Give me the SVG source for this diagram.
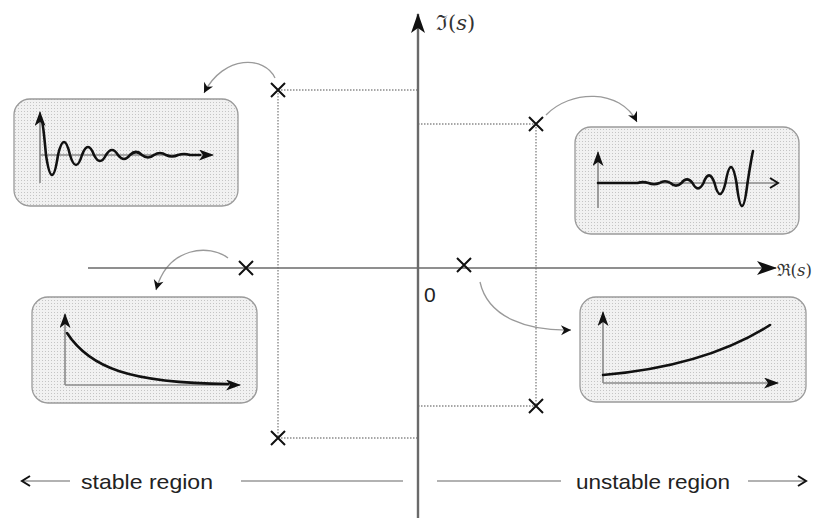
<svg xmlns="http://www.w3.org/2000/svg" width="815" height="518" viewBox="0 0 815 518">
<style>
.bg{fill:#fff}
.box{fill:url(#dots);stroke:#9a9a9a;stroke-width:1.3}
.axis{stroke:#6a6a6a;fill:none}
.dot{stroke:#8a8a8a;stroke-width:1.4;stroke-dasharray:1.5 1.5;fill:none}
.pole{stroke:#111;stroke-width:2;fill:none}
.curve{stroke:#9a9a9a;stroke-width:1.3;fill:none}
.sig{stroke:#111;stroke-width:2.6;fill:none;stroke-linecap:round}
.iax{stroke:#8a8a8a;stroke-width:1.6;fill:none}
.lbl{font-family:"Liberation Sans",Arial,sans-serif;fill:#222}
.math{font-family:"DejaVu Serif","Liberation Serif",serif;fill:#333}
.reg{stroke:#999;stroke-width:1.3;fill:none}
</style>
<defs>
<pattern id="dots" width="3" height="3" patternUnits="userSpaceOnUse">
<rect width="3" height="3" fill="#f1f1f1"/>
<rect width="1" height="1" fill="#c4c4c4"/>
</pattern>
<marker id="bigHead" markerUnits="userSpaceOnUse" markerWidth="22" markerHeight="14" refX="19" refY="7" orient="auto">
<path d="M0,0 L20,7 L0,14 L5,7 z" fill="#111"/>
</marker>
<marker id="head" markerUnits="userSpaceOnUse" markerWidth="16" markerHeight="12" refX="14" refY="5.5" orient="auto">
<path d="M0,0 L15,5.5 L0,11 L4,5.5 z" fill="#111"/>
</marker>
<marker id="chev" markerUnits="userSpaceOnUse" markerWidth="14" markerHeight="12" refX="11" refY="5.5" orient="auto">
<path d="M1,0.5 L11,5.5 L1,10.5 L4,5.5 z" fill="#111"/>
</marker>
<marker id="open" markerUnits="userSpaceOnUse" markerWidth="14" markerHeight="14" refX="10" refY="6" orient="auto">
<path d="M2,1 L10,6 L2,11" fill="none" stroke="#111" stroke-width="2"/>
</marker>
</defs>
<rect class="bg" width="815" height="518"/>

<g id="connectors">
<path class="dot" d="M278,90 L278,438 M278,90 L418,90 M278,438 L418,438"/>
<path class="dot" d="M536,124 L536,406 M418,124 L536,124 M418,406 L536,406"/>
<path class="curve" d="M275,78 C265,56 224,54 204,93" marker-end="url(#chev)"/>
<path class="curve" d="M546,115 C570,90 620,88 637,122" marker-end="url(#chev)"/>
<path class="curve" d="M228,258 C210,244 168,246 156,290" marker-end="url(#chev)"/>
<path class="curve" d="M480,282 C488,318 528,331 571,330" marker-end="url(#chev)"/>
</g>

<g id="axes">
<line class="axis" x1="88" y1="268" x2="776" y2="268" stroke-width="1.6" marker-end="url(#bigHead)"/>
<line class="axis" x1="418" y1="518" x2="418" y2="14" stroke-width="2.4" marker-end="url(#bigHead)"/>
<text class="math" x="436" y="30" font-size="21">ℑ(<tspan font-style="italic">s</tspan>)</text>
<text class="math" x="777" y="276" font-size="17" textLength="35" lengthAdjust="spacingAndGlyphs">ℜ(<tspan font-style="italic">s</tspan>)</text>
<text class="lbl" x="424" y="302" font-size="21">0</text>
</g>

<g id="poles">
<path class="pole" d="M271,83 L285,97 M285,83 L271,97"/>
<path class="pole" d="M271,431 L285,445 M285,431 L271,445"/>
<path class="pole" d="M239,261 L253,275 M253,261 L239,275"/>
<path class="pole" d="M457,258 L471,272 M471,258 L457,272"/>
<path class="pole" d="M529,117 L543,131 M543,117 L529,131"/>
<path class="pole" d="M529,399 L543,413 M543,399 L529,413"/>
</g>

<g id="box-damped">
<rect class="box" x="14" y="99" width="224" height="107" rx="16"/>
<line class="iax" x1="40" y1="183" x2="40" y2="112" marker-end="url(#head)"/>
<line class="iax" x1="40" y1="155" x2="213" y2="155" marker-end="url(#head)"/>
<path class="sig" d="M40,118 C43,118 44.5,140 46,155 C50,181.7 54,181.7 58,155 C62,137.7 66,137.7 70,155 C74,168.3 78,168.3 82,155 C86,144.3 90,144.3 94,155 C98,163 102,163 106,155 C110,148.3 114,148.3 118,155 C122,160.3 126,160.3 130,155 C134,151 138,151 142,155 C146,158.3 150,158.3 154,155 C158,152.3 162,152.3 166,155 C170,157 174,157 178,155 C182,153.7 186,153.7 190,155 L200,155"/>
</g>

<g id="box-growing-osc">
<rect class="box" x="575" y="127" width="224" height="107" rx="16"/>
<line class="iax" x1="598" y1="208" x2="598" y2="152" marker-end="url(#head)"/>
<line class="iax" x1="598" y1="183" x2="778" y2="183" marker-end="url(#open)"/>
<path class="sig" stroke-width="2.2" d="M598,183 L637.5,183 C641.2,181.8 644.8,181.8 648.5,183 C652.2,184.6 655.8,184.6 659.5,183 C663.2,180.6 666.8,180.6 670.5,183 C674.2,186.5 677.8,186.5 681.5,183 C685.2,178.1 688.8,178.1 692.5,183 C696.2,190.1 699.8,190.1 703.5,183 C707.2,172.9 710.8,172.9 714.5,183 C718.2,197.7 721.8,197.7 725.5,183 C729.2,161.7 732.8,161.7 736.5,183 C740.2,213.7 743.8,213.7 747.5,183 C749.5,170 751,160 753,151"/>
</g>

<g id="box-decay">
<rect class="box" x="32" y="297" width="225" height="106" rx="16"/>
<line class="iax" x1="65" y1="385" x2="65" y2="314" marker-end="url(#head)"/>
<line class="iax" x1="65" y1="385" x2="240" y2="385" marker-end="url(#head)"/>
<path class="sig" d="M67,333 C90,368 130,383 228,384"/>
</g>

<g id="box-growth">
<rect class="box" x="580" y="297" width="226" height="105" rx="16"/>
<line class="iax" x1="603" y1="383" x2="603" y2="312" marker-end="url(#head)"/>
<line class="iax" x1="603" y1="383" x2="778" y2="383" marker-end="url(#head)"/>
<path class="sig" d="M603,375 C660,370 720,357 770,325"/>
</g>

<g id="regions">
<line class="reg" x1="70" y1="481" x2="22" y2="481" marker-end="url(#open)"/>
<text class="lbl" x="81" y="489" font-size="21" textLength="132" lengthAdjust="spacingAndGlyphs">stable region</text>
<line class="reg" x1="241" y1="481" x2="403" y2="481"/>
<line class="reg" x1="437" y1="481" x2="561" y2="481"/>
<text class="lbl" x="576" y="489" font-size="21" textLength="154" lengthAdjust="spacingAndGlyphs">unstable region</text>
<line class="reg" x1="748" y1="481" x2="806" y2="481" marker-end="url(#open)"/>
</g>
</svg>
